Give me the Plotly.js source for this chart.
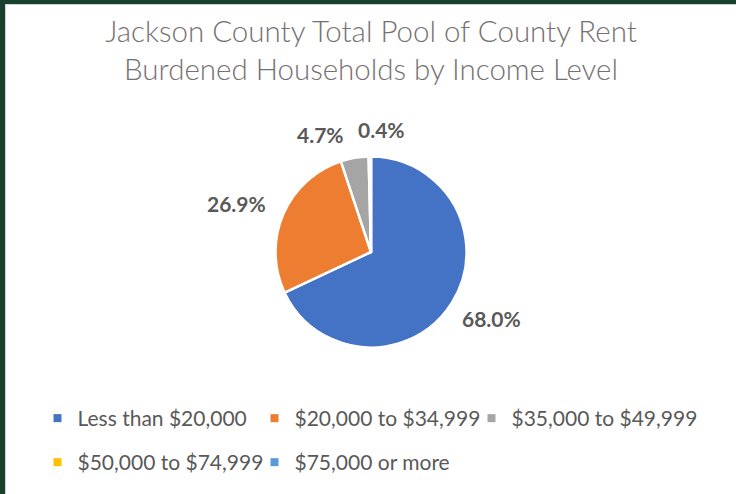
<!DOCTYPE html>
<html>
<head>
<meta charset="utf-8">
<script src="https://cdn.plot.ly/plotly-3.0.1.min.js"></script>
<style>
  html, body { margin: 0; padding: 0; background: #17402d; width: 736px; height: 494px; overflow: hidden; }
  #frame { position: absolute; left: 5px; top: 4px; width: 731px; height: 490px; background: #ffffff; border-left: 1px solid #d0d0d0; border-top: 1px solid #d0d0d0; box-sizing: border-box; }
  #chart { position: absolute; left: 0; top: 0; width: 730px; height: 489px; }
  .legend .legendpie { d: path("M4,4V-4H-4V4Z"); stroke-width: 0 !important; }
</style>
</head>
<body>
<div id="frame"><div id="chart"></div></div>
<script>
const categories = ["Less than $20,000", "$20,000 to $34,999", "$35,000 to $49,999", "$50,000 to $74,999", "$75,000 or more"];
const shares = [68.0, 26.9, 4.7, 0.4, 0.0];
const colors = ["#4472C4", "#ED7D31", "#A5A5A5", "#FFC000", "#5B9BD5"];
const titleText = "Jackson County Total Pool of County Rent<br>Burdened Households by Income Level";

// layout geometry (pixels inside the chart div)
const W = 730, H = 489;
const cx = 365, cy = 247, Rdom = 95.5, Rlab = 94;
// small nudges (px) for crowded labels, like Excel's best-fit placement
const labelNudge = [[2, 11], [-8, -8], [-33, -1], [12, -5], [0, 0]];

const trace = {
  type: "pie",
  labels: categories,
  values: shares,
  sort: false,
  direction: "clockwise",
  rotation: 0,
  marker: { colors: colors, line: { color: "#ffffff", width: 2.5 } },
  textinfo: "none",
  hoverinfo: "label+percent",
  domain: { x: [(cx - Rdom) / W, (cx + Rdom) / W], y: [1 - (cy + Rdom) / H, 1 - (cy - Rdom) / H] }
};

// data labels, placed from each slice's mid-angle
const total = shares.reduce((a, b) => a + b, 0);
const annotations = [];
let cum = 0;
shares.forEach((v, i) => {
  const start = cum;
  cum += v;
  if (v <= 0) return;
  const mid = ((start + v / 2) / total) * 2 * Math.PI;
  const dx = Math.sin(mid), dy = Math.cos(mid);
  const rr = Rlab * 1.1;
  const px = cx + rr * dx + labelNudge[i][0];
  const py = cy - rr * dy + labelNudge[i][1];
  let xanchor = "center";
  if (dx > 0.5) xanchor = "left"; else if (dx < -0.5) xanchor = "right";
  let yanchor = "middle";
  if (dy > 0.7) yanchor = "bottom"; else if (dy < -0.7) yanchor = "top";
  annotations.push({
    xref: "paper", yref: "paper", x: px / W, y: 1 - py / H,
    xanchor: xanchor, yanchor: yanchor, showarrow: false,
    text: (v / total * 100).toFixed(1) + "%",
    font: { family: "Lato, sans-serif", size: 21, color: "#595959", weight: "bold" }
  });
});

const layout = {
  width: W, height: H,
  margin: { l: 0, r: 0, t: 0, b: 0 },
  paper_bgcolor: "#ffffff",
  title: {
    text: titleText,
    font: { family: "Lato, sans-serif", size: 29.5, color: "#767171", weight: 300 },
    x: 0.5, xanchor: "center", y: 1 - 37 / H, yanchor: "top", yref: "container"
  },
  annotations: annotations,
  showlegend: true,
  legend: {
    orientation: "h", x: 0.5, xanchor: "center", y: 1 - 393 / H, yanchor: "top",
    entrywidth: 172, entrywidthmode: "pixels",
    font: { family: "Lato, sans-serif", size: 21, color: "#595959" },
    traceorder: "normal", tracegroupgap: 0
  }
};

Plotly.newPlot("chart", [trace], layout, { displayModeBar: false, staticPlot: true }).then(gd => {
  // Excel-like row spacing for the legend, shifted to Excel's left inset
  const rowGap = 44, shiftX = -8;
  const scroll = gd.querySelector(".legend .scrollbox");
  if (scroll) scroll.removeAttribute("clip-path");
  const items = gd.querySelectorAll(".legend g.traces");
  const ys = [];
  items.forEach(el => {
    const m = /translate\(([-\d.]+),\s*([-\d.]+)\)/.exec(el.getAttribute("transform") || "");
    if (m) ys.push(parseFloat(m[2]));
  });
  const uniq = [...new Set(ys)].sort((a, b) => a - b);
  items.forEach(el => {
    const m = /translate\(([-\d.]+),\s*([-\d.]+)\)/.exec(el.getAttribute("transform") || "");
    if (!m) return;
    const row = uniq.indexOf(parseFloat(m[2]));
    el.setAttribute("transform", "translate(" + (parseFloat(m[1]) + shiftX) + "," + (uniq[0] + row * rowGap) + ")");
  });
});
</script>
</body>
</html>
